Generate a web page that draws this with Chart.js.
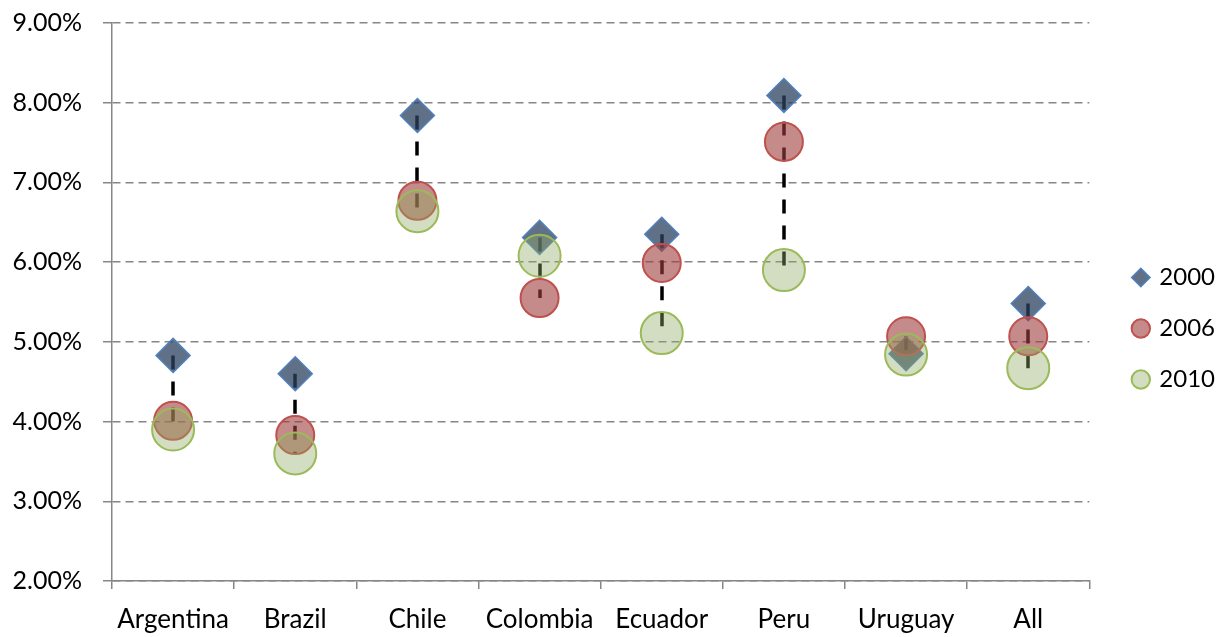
<!DOCTYPE html>
<html>
<head>
<meta charset="utf-8">
<script src="https://cdn.jsdelivr.net/npm/chart.js@4"></script>
<style>
  html, body { margin: 0; padding: 0; background: #ffffff; }
  #wrap { width: 1225px; height: 637px; }
</style>
</head>
<body>
<div id="wrap"><canvas id="c" width="1225" height="637"></canvas></div>
<script>
const categories = ['Argentina', 'Brazil', 'Chile', 'Colombia', 'Ecuador', 'Peru', 'Uruguay', 'All'];
const y2000 = [4.83, 4.60, 7.84, 6.31, 6.35, 8.09, 4.85, 5.48];
const y2006 = [4.01, 3.83, 6.77, 5.55, 5.99, 7.51, 5.07, 5.07];
const y2010 = [3.90, 3.60, 6.64, 6.08, 5.11, 5.90, 4.84, 4.67];
const seriesNames = ['2000', '2006', '2010'];
const yMin = 2, yMax = 9, yStep = 1;

const FONT = 'Lato, "Liberation Sans", sans-serif';

const hiLoPlugin = {
  id: 'hiLo',
  beforeDatasetsDraw(chart) {
    const { ctx } = chart;
    const x = chart.scales.x, y = chart.scales.y;
    ctx.save();
    ctx.strokeStyle = '#000000';
    ctx.lineWidth = 3.5;
    ctx.setLineDash([14, 12]);
    ctx.lineCap = 'butt';
    categories.forEach((c, i) => {
      const vals = [y2000[i], y2006[i], y2010[i]];
      const hi = Math.max(...vals), lo = Math.min(...vals);
      const px = Math.round(x.getPixelForValue(i));
      ctx.beginPath();
      ctx.moveTo(px, y.getPixelForValue(hi));
      ctx.lineTo(px, y.getPixelForValue(lo));
      ctx.stroke();
    });
    ctx.restore();
  }
};

new Chart(document.getElementById('c'), {
  type: 'line',
  data: {
    labels: categories,
    datasets: [
      {
        label: seriesNames[0], data: y2000, showLine: false, order: 3,
        pointStyle: 'rectRot', pointRadius: 17,
        backgroundColor: 'rgba(43,64,95,0.75)', borderColor: '#4f81bd', borderWidth: 1.5,
        pointBackgroundColor: 'rgba(43,64,95,0.75)', pointBorderColor: '#4f81bd', pointBorderWidth: 1.5
      },
      {
        label: seriesNames[1], data: y2006, showLine: false, order: 2,
        pointStyle: 'circle', pointRadius: 19,
        backgroundColor: 'rgba(157,62,60,0.6)', borderColor: '#c0504d', borderWidth: 2,
        pointBackgroundColor: 'rgba(157,62,60,0.6)', pointBorderColor: '#c0504d', pointBorderWidth: 2
      },
      {
        label: seriesNames[2], data: y2010, showLine: false, order: 1,
        pointStyle: 'circle', pointRadius: 21,
        backgroundColor: 'rgba(145,170,100,0.4)', borderColor: '#9bbb59', borderWidth: 2,
        pointBackgroundColor: 'rgba(145,170,100,0.4)', pointBorderColor: '#9bbb59', pointBorderWidth: 2
      }
    ]
  },
  options: {
    responsive: false,
    animation: false,
    devicePixelRatio: 1,
    events: [],
    layout: { padding: { top: 20, right: 0, bottom: 0, left: 0 } },
    plugins: {
      tooltip: { enabled: false },
      legend: {
        position: 'right',
        labels: {
          usePointStyle: true,
          boxWidth: 13, boxHeight: 13,
          padding: 27,
          color: '#000000',
          font: { family: FONT, size: 24 },
          sort: (a, b) => a.datasetIndex - b.datasetIndex
        }
      }
    },
    scales: {
      x: {
        offset: true,
        grid: { offset: true, drawOnChartArea: false, drawTicks: true, tickLength: 8, color: '#868686', lineWidth: 1.5 },
        border: { display: true, color: '#868686', width: 1.5 },
        ticks: { color: '#000000', font: { family: FONT, size: 26 }, padding: 15, maxRotation: 0, autoSkip: false },
        afterFit(s) { s.height = 56; }
      },
      y: {
        min: yMin, max: yMax,
        grid: { color: '#868686', lineWidth: 1.5, tickLength: 9, tickColor: '#868686' },
        border: { display: true, color: '#868686', width: 1.5, dash: [8, 5] },
        ticks: {
          stepSize: yStep, color: '#000000', padding: 21,
          font: { family: FONT, size: 25 },
          callback: v => v.toFixed(2) + '%'
        },
        afterFit(s) { s.width = 112; s.paddingTop = 0; s.paddingBottom = 0; }
      },
      spacer: {
        type: 'linear', position: 'right', display: true,
        grid: { display: false, drawOnChartArea: false },
        border: { display: false },
        ticks: { display: false },
        afterFit(s) { s.width = 18; }
      }
    }
  },
  plugins: [hiLoPlugin]
});
</script>
</body>
</html>
